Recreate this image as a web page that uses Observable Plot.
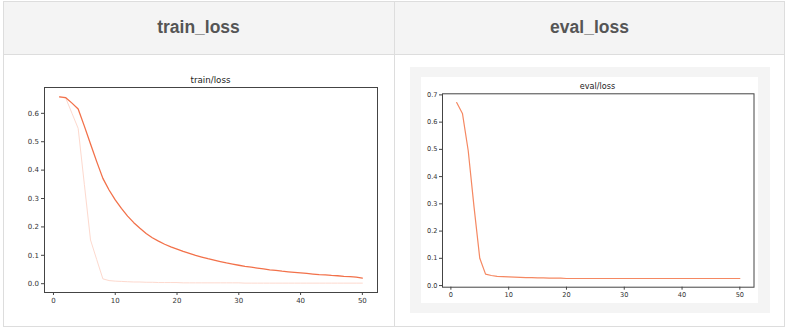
<!DOCTYPE html>
<html>
<head>
<meta charset="utf-8">
<script src="https://cdn.jsdelivr.net/npm/d3@7"></script>
<script src="https://cdn.jsdelivr.net/npm/@observablehq/plot@0.6"></script>
<style>
  html, body { margin: 0; padding: 0; background: #fff; width: 792px; height: 333px; overflow: hidden; }
  .abs { position: absolute; }
  .hdr { font-family: "Liberation Sans", Arial, sans-serif; font-weight: bold; font-size: 17.5px; color: #555; text-align: center; }
  .ttl { font-family: "DejaVu Sans", sans-serif; color: #222; text-align: center; white-space: nowrap; }
</style>
</head>
<body>
<div class="abs" style="left:3px;top:1px;width:782px;height:53px;background:#f4f4f4;"></div>
<div class="abs" style="left:3px;top:1px;width:782px;height:326px;border:1px solid #ddd;box-sizing:border-box;"></div>
<div class="abs" style="left:3px;top:54px;width:782px;height:1px;background:#ddd;"></div>
<div class="abs" style="left:394px;top:1px;width:1px;height:326px;background:#ddd;"></div>
<div class="abs hdr" id="h1" style="left:3px;top:16px;width:391px;line-height:22px;"></div>
<div class="abs hdr" id="h2" style="left:394px;top:16px;width:391px;line-height:22px;"></div>

<div class="abs" id="left" style="left:4px;top:60px;"></div>
<div class="abs ttl" id="t1" style="left:44px;top:74px;width:333px;font-size:8.7px;line-height:12px;"></div>

<div class="abs" style="left:410px;top:67px;width:360px;height:246px;background:#f4f4f4;"></div>
<div class="abs" style="left:421px;top:77px;width:337px;height:226px;background:#fff;"></div>
<div class="abs" id="right" style="left:421px;top:77px;"></div>
<div class="abs ttl" id="t2" style="left:442px;top:80px;width:311px;font-size:8.1px;line-height:12px;"></div>

<script>
const headers = ["train_loss", "eval_loss"];
const titles = ["train/loss", "eval/loss"];

const steps = [1,2,3,4,5,6,7,8,9,10,11,12,13,14,15,16,17,18,19,20,21,22,23,24,25,26,27,28,29,30,31,32,33,34,35,36,37,38,39,40,41,42,43,44,45,46,47,48,49,50];

// train/loss smoothed (dark) curve
const trainSmooth = [0.658,0.655,0.636,0.615,0.555,0.492,0.430,0.371,0.330,0.295,
  0.265,0.238,0.215,0.195,0.177,0.162,0.150,0.139,0.130,0.122,
  0.114,0.107,0.100,0.094,0.088,0.083,0.078,0.073,0.069,0.065,
  0.061,0.058,0.055,0.052,0.049,0.047,0.044,0.042,0.040,0.038,
  0.036,0.034,0.032,0.031,0.029,0.028,0.026,0.025,0.023,0.020];

// train/loss raw (light) curve
const trainRaw = [0.658,0.653,0.600,0.547,0.350,0.154,0.085,0.017,0.011,0.009,
  0.008,0.007,0.006,0.006,0.005,0.005,0.004,0.004,0.004,0.004,
  0.003,0.003,0.003,0.003,0.003,0.003,0.003,0.003,0.003,0.003,
  0.002,0.002,0.002,0.002,0.002,0.002,0.002,0.002,0.002,0.002,
  0.002,0.002,0.002,0.002,0.002,0.002,0.002,0.002,0.002,0.002];

// eval/loss
const evalLoss = [0.672,0.632,0.495,0.290,0.100,0.042,0.037,0.034,0.033,0.032,
  0.031,0.030,0.029,0.029,0.028,0.028,0.027,0.027,0.027,0.026,
  0.026,0.026,0.026,0.026,0.026,0.026,0.026,0.026,0.026,0.026,
  0.026,0.026,0.026,0.026,0.026,0.026,0.026,0.026,0.026,0.026,
  0.026,0.026,0.026,0.026,0.026,0.026,0.026,0.026,0.026,0.026];

const xTicks = [0,10,20,30,40,50];
const yTicksTrain = [0,0.1,0.2,0.3,0.4,0.5,0.6];
const yTicksEval = [0,0.1,0.2,0.3,0.4,0.5,0.6,0.7];

document.getElementById("h1").textContent = headers[0];
document.getElementById("h2").textContent = headers[1];
document.getElementById("t1").textContent = titles[0];
document.getElementById("t2").textContent = titles[1];

const trainRows = steps.map((s, i) => ({step: s, smooth: trainSmooth[i], raw: trainRaw[i]}));
const evalRows = steps.map((s, i) => ({step: s, loss: evalLoss[i]}));

const fmt = d => d.toFixed(1);

const left = Plot.plot({
  width: 388, height: 262,
  marginLeft: 40, marginRight: 15, marginTop: 27, marginBottom: 30,
  style: {fontFamily: "DejaVu Sans, sans-serif", fontSize: "7px", color: "#333", background: "transparent", overflow: "visible"},
  x: {domain: [-1.45, 52.45], label: null},
  y: {domain: [-0.031, 0.691], label: null},
  marks: [
    Plot.line(trainRows, {x: "step", y: "raw", stroke: "#fdd9ce", strokeWidth: 1}),
    Plot.line(trainRows, {x: "step", y: "smooth", stroke: "#f2714a", strokeWidth: 1.3}),
    Plot.frame({stroke: "#444", strokeWidth: 1}),
    Plot.axisX({ticks: xTicks, tickSize: 3, tickPadding: 2.5, tickFormat: d => String(d), stroke: "#444"}),
    Plot.axisY({ticks: yTicksTrain, tickSize: 3, tickPadding: 2.5, tickFormat: fmt, stroke: "#444"})
  ]
});
document.getElementById("left").appendChild(left);

const right = Plot.plot({
  width: 337, height: 226,
  marginLeft: 21, marginRight: 4.5, marginTop: 16.3, marginBottom: 16.3,
  style: {fontFamily: "DejaVu Sans, sans-serif", fontSize: "6.6px", color: "#333", background: "transparent", overflow: "visible"},
  x: {domain: [-1.45, 52.45], label: null},
  y: {domain: [-0.006, 0.704], label: null},
  marks: [
    Plot.line(evalRows, {x: "step", y: "loss", stroke: "#f58862", strokeWidth: 1.2}),
    Plot.frame({stroke: "#444", strokeWidth: 1}),
    Plot.axisX({ticks: xTicks, tickSize: 3, tickPadding: 2, tickFormat: d => String(d), stroke: "#444"}),
    Plot.axisY({ticks: yTicksEval, tickSize: 3, tickPadding: 2, tickFormat: fmt, stroke: "#444"})
  ]
});
document.getElementById("right").appendChild(right);
</script>
</body>
</html>
